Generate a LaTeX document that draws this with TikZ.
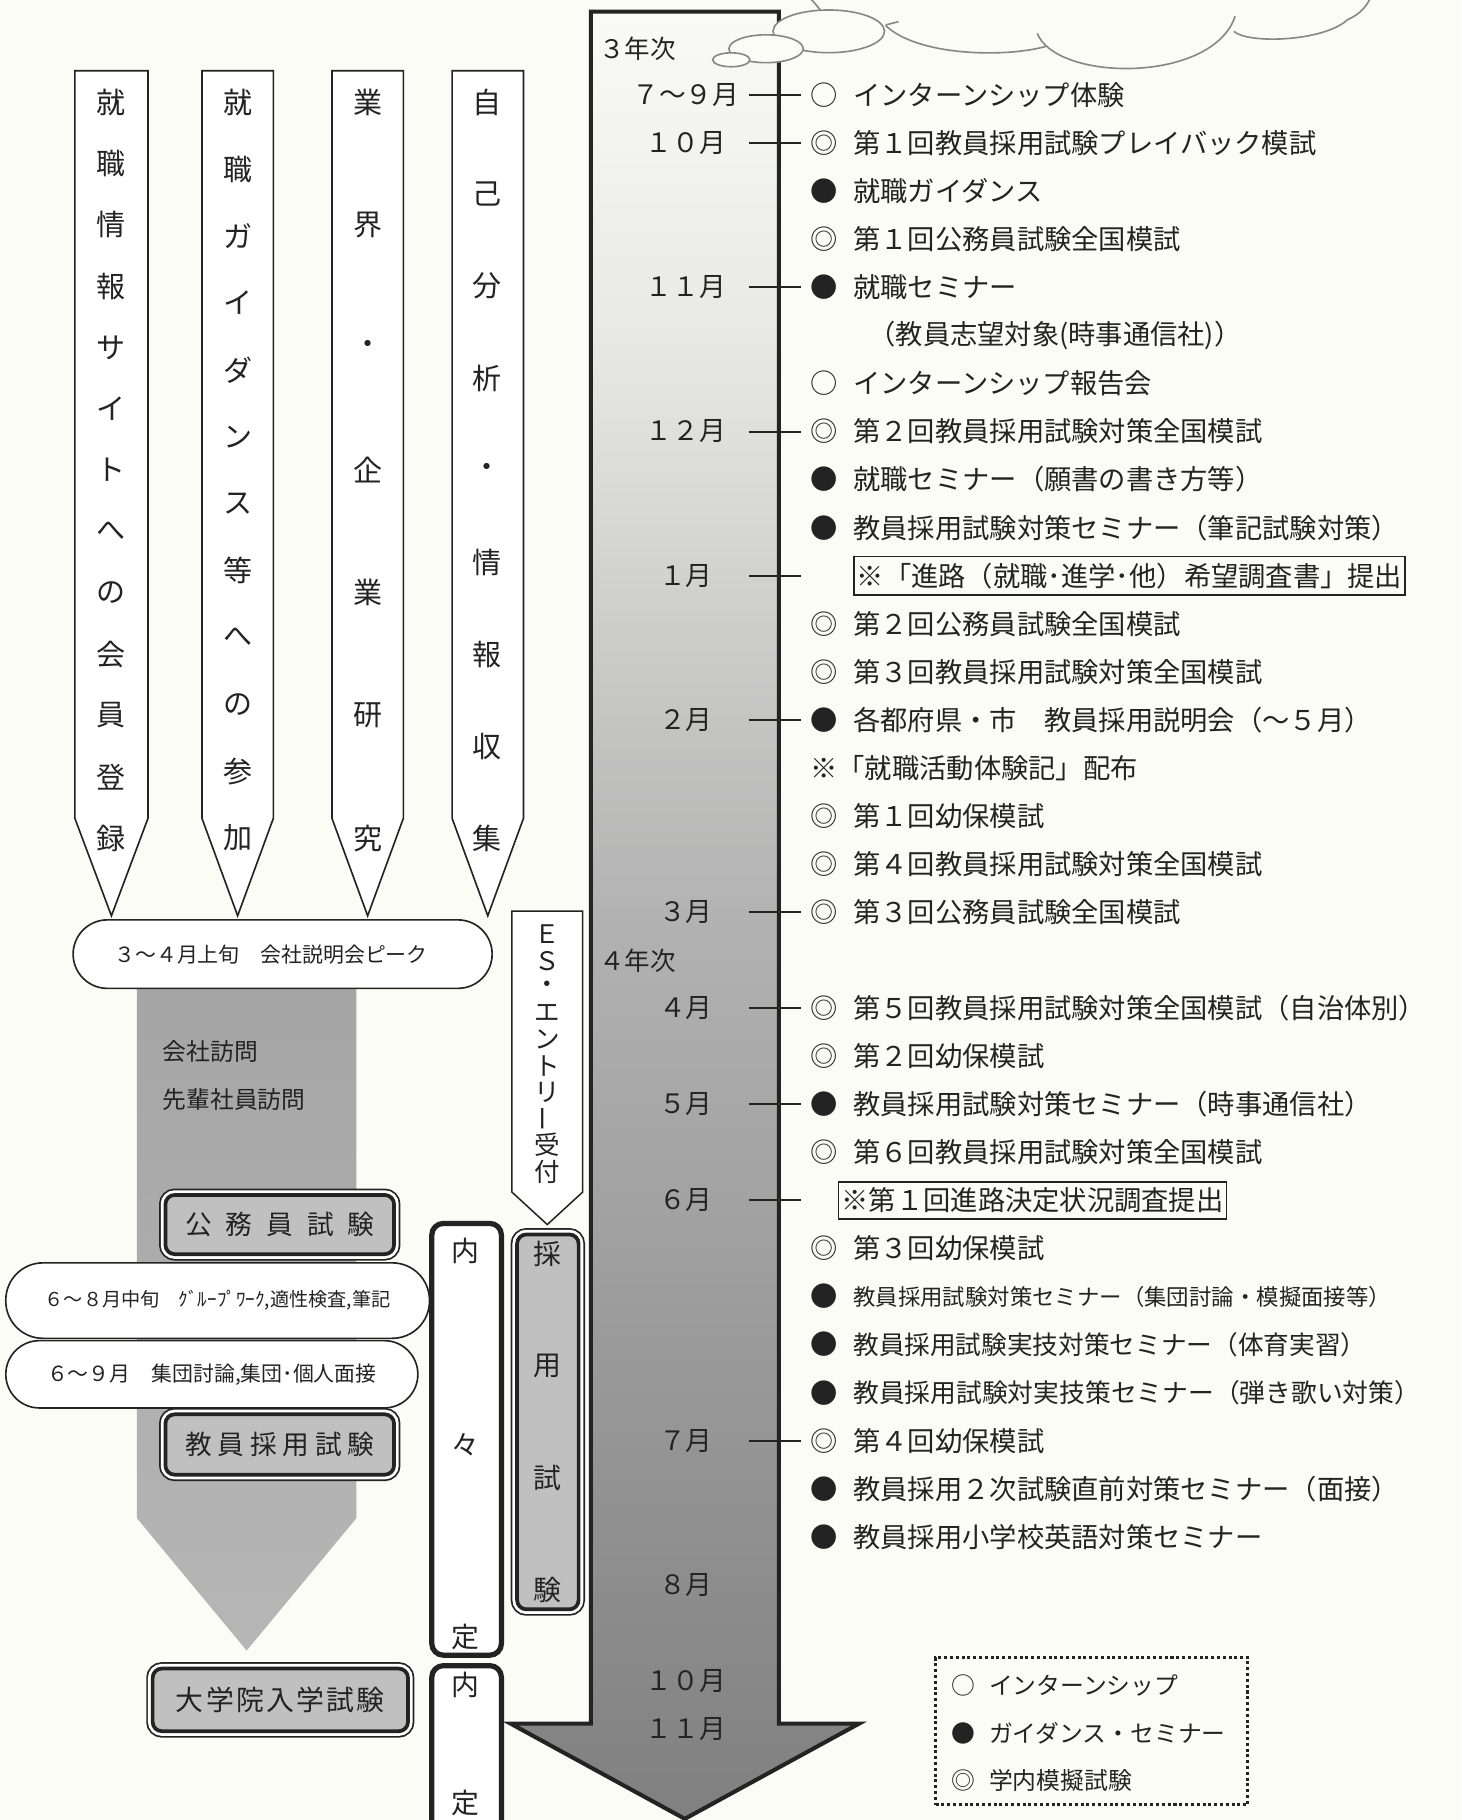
\documentclass[tikz,border=0pt]{standalone}
\usepackage{fontspec}
\setmainfont{Noto Sans CJK JP}
\usetikzlibrary{calc}
\definecolor{bg}{RGB}{252,252,246}
\definecolor{ink}{RGB}{35,35,35}
\definecolor{boxg}{RGB}{192,192,192}
\definecolor{bartop}{RGB}{165,165,165}
\definecolor{barbot}{RGB}{182,182,182}
\definecolor{cloudc}{RGB}{135,135,135}
\definecolor{shtop}{RGB}{250,250,246}
\definecolor{shlight}{RGB}{232,232,230}
\definecolor{shmid}{RGB}{178,178,178}
\definecolor{shbot}{RGB}{128,128,128}
\pgfdeclareverticalshading{tlshade}{100bp}{color(0bp)=(shbot); color(25bp)=(shbot); color(50bp)=(shmid); color(66bp)=(shlight); color(75bp)=(shtop); color(100bp)=(shtop)}
\newcommand\myfs[1]{\fontsize{#1}{#1}\selectfont}
\newcommand\myev[4]{\node[bul] (b#1) at (710,{82+41.4*#2}) {#3};\node[ev] (e#1) at (735,{82+41.4*#2}) {#4};}
\newcommand\mymon[3]{\node[mon] (m#1) at (591,{82+41.4*#2}) {#3};}
\newcommand\mytick[2]{\coordinate (ta#1) at (645,{82+41.4*#2});\coordinate (tb#1) at (690,{82+41.4*#2});\draw[tk] (ta#1) -- (tb#1);}
\begin{document}
\begin{tikzpicture}[x=1pt,y=-1pt,
  ev/.style={anchor=west,inner sep=0pt,text=ink,font=\myfs{23.5}},
  bul/.style={inner sep=0pt,text=ink,font=\myfs{23.5}},
  mon/.style={inner sep=0pt,text=ink,font=\myfs{23}},
  tk/.style={draw=ink,line width=1.7pt},
  vt/.style={inner sep=0pt,text=ink,font=\myfs{25}},
  pent/.style={draw=ink,line width=1.4pt,fill=white},
  stad/.style={draw=ink,line width=1.4pt,fill=white,rounded corners=#1,inner sep=0pt,text=ink},
  dbl/.style={draw=ink,line width=3.2pt,fill=boxg,rounded corners=8pt,inner sep=0pt,text=ink,
     preaction={draw=ink,line width=11pt},preaction={draw=white,line width=8pt}},
  naitei/.style={draw=ink,line width=4.5pt,fill=white,rounded corners=10pt,inner sep=0pt},
  gl/.style={inner sep=0pt,text=ink,font=\myfs{20.5}},
  cl/.style={draw=cloudc,line width=1.4pt},
]
\fill[bg] (0,0) rectangle (1259,1568);
\useasboundingbox (0,0) rectangle (1259,1568);
\clip (0,0) rectangle (1259,1568);

% ---------- main timeline arrow ----------
\draw[line width=3.5pt,draw=ink,shading=tlshade]
  (509,10) -- (671,10) -- (671,1485) -- (740,1485) -- (590,1567) -- (440,1485) -- (509,1485) -- cycle;

% ---------- cloud ----------
\draw[cl] (707,9) .. controls (703,4) and (700,0) .. (696,-3);
\draw[cl] (763,21.5) -- (774,18.7);
\draw[cl] (763,22) .. controls (790,48) and (865,50) .. (901,40);
\draw[cl] (893.6,28.7) .. controls (910,70) and (1040,72) .. (1063,17) -- (1064,14);
\draw[cl] (1063,27) .. controls (1075,38) and (1140,36) .. (1161,17) .. controls (1172,12) and (1178,5) .. (1181,-3);
\draw[cl,fill=bg] (714,27) ellipse [x radius=48,y radius=18.4];
\draw[cl,fill=bg] (660,42) ellipse [x radius=32,y radius=12];
\draw[cl,fill=bg] (630,51.5) ellipse [x radius=16,y radius=6];

\node[inner sep=0pt,anchor=west,text=ink,font=\myfs{22}] (y3) at (516,42) {３年次};
\node[inner sep=0pt,anchor=west,text=ink,font=\myfs{22}] (y4) at (516,828) {４年次};

% months
\mymon{a}{0}{７～９月}\mytick{a}{0}
\mymon{b}{1}{１０月}\mytick{b}{1}
\mymon{c}{4}{１１月}\mytick{c}{4}
\mymon{d}{7}{１２月}\mytick{d}{7}
\mymon{e}{10}{１月}\mytick{e}{10}
\mymon{f}{13}{２月}\mytick{f}{13}
\mymon{g}{17}{３月}\mytick{g}{17}
\mymon{h}{19}{４月}\mytick{h}{19}
\mymon{i}{21}{５月}\mytick{i}{21}
\mymon{j}{23}{６月}\mytick{j}{23}
\mymon{k}{28}{７月}\mytick{k}{28}
\mymon{l}{31}{８月}
\mymon{m}{33}{１０月}
\mymon{n}{34}{１１月}

% events
\myev{1}{0}{○}{インターンシップ体験}
\myev{2}{1}{◎}{第１回教員採用試験プレイバック模試}
\myev{3}{2}{●}{就職ガイダンス}
\myev{4}{3}{◎}{第１回公務員試験全国模試}
\myev{5}{4}{●}{就職セミナー}
\node[ev] (e6) at (748,{82+41.4*5}) {（教員志望対象(時事通信社)）};
\myev{7}{6}{○}{インターンシップ報告会}
\myev{8}{7}{◎}{第２回教員採用試験対策全国模試}
\myev{9}{8}{●}{就職セミナー（願書の書き方等）}
\myev{10}{9}{●}{教員採用試験対策セミナー（筆記試験対策）}
\node[ev,draw=ink,line width=1.2pt,inner xsep=2.5pt,inner ysep=5.5pt] (e11) at (735,{82+41.4*10}) {※「進路（就職･進学･他）希望調査書」提出};
\myev{12}{11}{◎}{第２回公務員試験全国模試}
\myev{13}{12}{◎}{第３回教員採用試験対策全国模試}
\myev{14}{13}{●}{各都府県・市　教員採用説明会（～５月）}
\node[ev] (e15) at (698,{82+41.4*14}) {※「就職活動体験記」配布};
\myev{16}{15}{◎}{第１回幼保模試}
\myev{17}{16}{◎}{第４回教員採用試験対策全国模試}
\myev{18}{17}{◎}{第３回公務員試験全国模試}
\myev{19}{19}{◎}{第５回教員採用試験対策全国模試（自治体別）}
\myev{20}{20}{◎}{第２回幼保模試}
\myev{21}{21}{●}{教員採用試験対策セミナー（時事通信社）}
\myev{22}{22}{◎}{第６回教員採用試験対策全国模試}
\node[ev,draw=ink,line width=1.2pt,inner xsep=2.5pt,inner ysep=5pt] (e23) at (722,{82+41.4*23}) {※第１回進路決定状況調査提出};
\myev{24}{24}{◎}{第３回幼保模試}
\node[bul] (b25) at (710,{82+41.4*25}) {●};
\node[ev,font=\myfs{19.3}] (e25) at (735,{82+41.4*25}) {教員採用試験対策セミナー（集団討論・模擬面接等）};
\node[bul] (b26) at (710,{82+41.4*26}) {●};
\node[ev,font=\myfs{22.1}] (e26) at (735,{82+41.4*26}) {教員採用試験実技対策セミナー（体育実習）};
\node[bul] (b27) at (710,{82+41.4*27}) {●};
\node[ev,font=\myfs{22.2}] (e27) at (735,{82+41.4*27}) {教員採用試験対実技策セミナー（弾き歌い対策）};
\myev{28}{28}{◎}{第４回幼保模試}
\myev{29}{29}{●}{教員採用２次試験直前対策セミナー（面接）}
\myev{30}{30}{●}{教員採用小学校英語対策セミナー}

% ---------- left pentagon arrows ----------
\foreach \l/\r in {64.5/127.5,174/235.5,286/347.5,389.5/451}
  \draw[pent] (\l,61) -- (\r,61) -- (\r,705) -- ({(\l+\r)/2},789) -- (\l,705) -- cycle;
\foreach \c [count=\i from 0] in {就,職,情,報,サ,イ,ト,へ,の,会,員,登,録}
  \node[vt] (va\i) at (96,{88+52.83*\i}) {\c};
\foreach \c [count=\i from 0] in {就,職,ガ,イ,ダ,ン,ス,等,へ,の,参,加}
  \node[vt] (vb\i) at (205,{88+57.64*\i}) {\c};
\foreach \c [count=\i from 0] in {業,界,・,企,業,研,究}
  \node[vt] (vc\i) at (317,{88+105.67*\i}) {\c};
\foreach \c [count=\i from 0] in {自,己,分,析,・,情,報,収,集}
  \node[vt] (vd\i) at (420,{88+79.25*\i}) {\c};

% ---------- gray column ----------
\path[top color=bartop,bottom color=barbot] (118,845) -- (307,845) -- (307,1308) -- (212.5,1422) -- (118,1308) -- cycle;
\node[inner sep=0pt,anchor=west,text=ink,font=\myfs{20.5}] (kv1) at (140,906) {会社訪問};
\node[inner sep=0pt,anchor=west,text=ink,font=\myfs{20.5}] (kv2) at (140,947) {先輩社員訪問};

\node[stad=29.5pt,minimum width=361,minimum height=59] (s34) at (243.5,822) {};
\node[inner sep=0pt,text=ink,font=\myfs{18}] (t34) at (233.5,822) {３～４月上旬　会社説明会ピーク};

\node[dbl,minimum width=197,minimum height=51,font=\myfs{23}] (koumu) at (241,1055) {公\hspace{12pt}務\hspace{12pt}員\hspace{12pt}試\hspace{12pt}験};

\node[stad=32pt,minimum width=365,minimum height=65,font=\myfs{16.5}] (s68) at (187.5,1120.5) {６～８月中旬　ｸﾞﾙｰﾌﾟﾜｰｸ,適性検査,筆記};
\node[stad=29pt,minimum width=355,minimum height=58,font=\myfs{18}] (s69) at (182.5,1184) {６～９月　集団討論,集団･個人面接};

\node[dbl,minimum width=197,minimum height=52,font=\myfs{23}] (kyoin) at (241,1244.5) {教\hspace{5pt}員\hspace{5pt}採\hspace{5pt}用\hspace{5pt}試\hspace{5pt}験};
\node[dbl,minimum width=220,minimum height=54,font=\myfs{24}] (daigaku) at (241.5,1464.5) {大\hspace{2pt}学\hspace{2pt}院\hspace{2pt}入\hspace{2pt}学\hspace{2pt}試\hspace{2pt}験};

% ---------- naitei boxes ----------
\node[naitei,minimum width=60,minimum height=372] (nn) at (402,1240) {};
\node[naitei,minimum width=60,minimum height=160] (nt) at (402,1515) {};
\node[vt,font=\myfs{24}] (nn1) at (401,1078) {内};
\node[vt,font=\myfs{24}] (nn2) at (401,1245) {々};
\node[vt,font=\myfs{24}] (nn3) at (401,1410) {定};
\node[vt,font=\myfs{24}] (nt1) at (401,1452) {内};
\node[vt,font=\myfs{24}] (nt2) at (401,1553) {定};

% ---------- ES entry ----------
\draw[pent,line width=1.3pt] (441,785) -- (502,785) -- (502,1027) -- (471.5,1055) -- (441,1027) -- cycle;
\foreach \c [count=\i from 0] in {Ｅ,Ｓ,・,エ,ン,ト,リ}
  \node[vt,font=\myfs{22}] (es\i) at (471.5,{805+22.7*\i}) {\c};
\node[vt,font=\myfs{22},rotate=90] (es7) at (471.5,{805+22.7*7}) {ー};
\node[vt,font=\myfs{22}] (es8) at (471.5,{805+22.7*8}) {受};
\node[vt,font=\myfs{22}] (es9) at (471.5,{805+22.7*9}) {付};

% ---------- saiyo shiken ----------
\node[dbl,minimum width=53,minimum height=323] (saiyo) at (472,1225) {};
\foreach \c/\yy [count=\i] in {採/1080,用/1177,試/1273,験/1370}
  \node[vt,font=\myfs{24}] (sy\i) at (472,\yy) {\c};

% ---------- legend ----------
\node[draw=ink,line width=2.6pt,dash pattern=on 2.6pt off 2.4pt,minimum width=269,minimum height=127,inner sep=0pt] (legend) at (940.5,1491.5) {};
\node[gl] (lb1) at (830,1452) {○};
\node[gl,anchor=west] (lt1) at (852,1452) {インターンシップ};
\node[gl] (lb2) at (830,1493) {●};
\node[gl,anchor=west] (lt2) at (852,1493) {ガイダンス・セミナー};
\node[gl] (lb3) at (830,1534) {◎};
\node[gl,anchor=west] (lt3) at (852,1534) {学内模擬試験};
\end{tikzpicture}
\end{document}
